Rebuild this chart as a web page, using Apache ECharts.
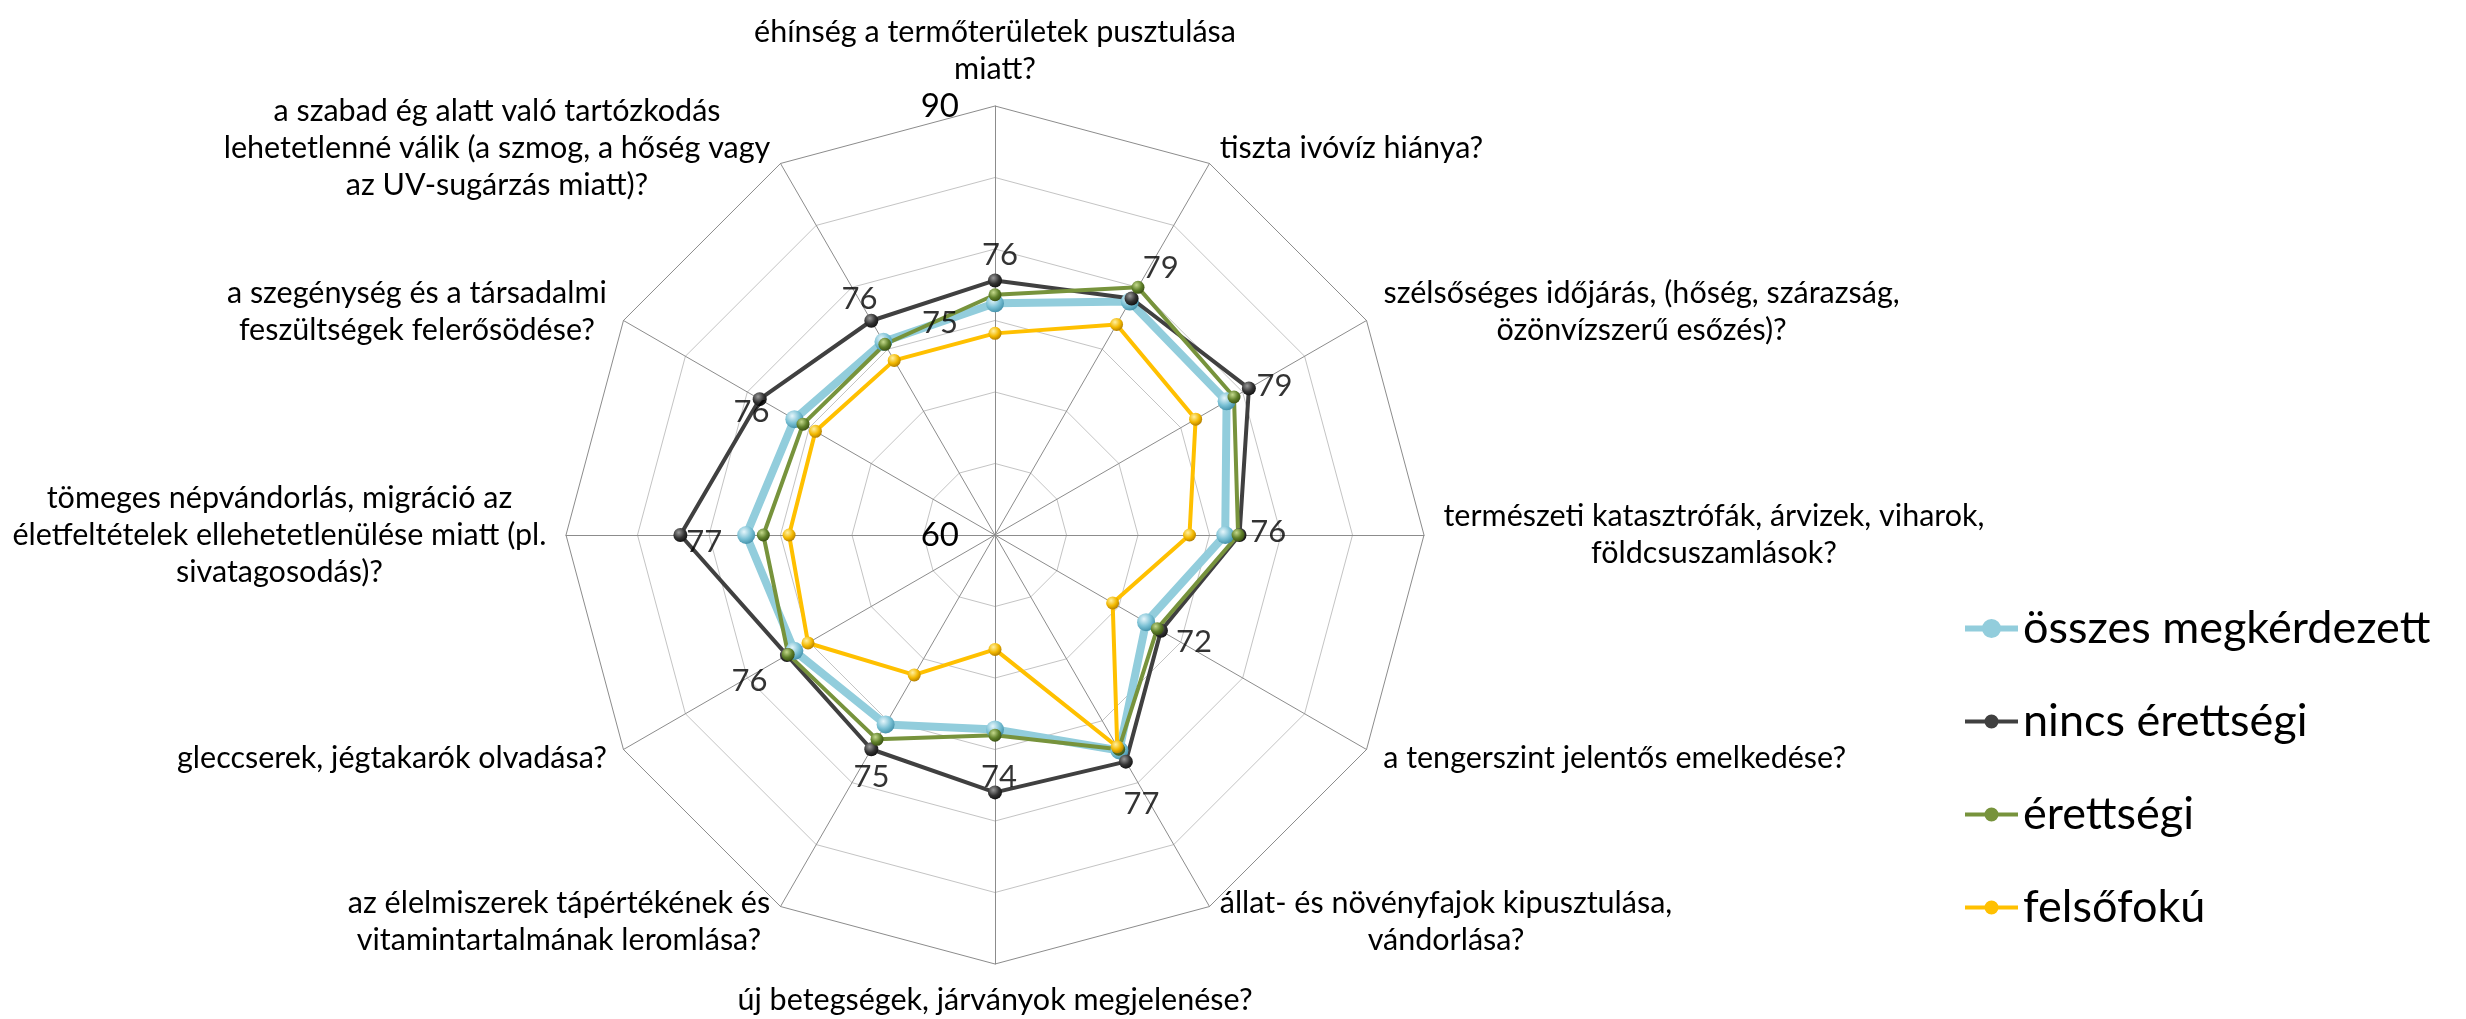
<!DOCTYPE html>
<html><head><meta charset="utf-8">
<script src="https://cdn.jsdelivr.net/npm/echarts@6/dist/echarts.min.js"></script>
<style>html,body{margin:0;padding:0;background:#fff}#c{width:2466px;height:1019px}</style>
</head><body><div id="c"></div>
<script>
// ---- data (clockwise from the top axis) ----
const categories = [
  'éhínség a termőterületek pusztulása\nmiatt?',
  'tiszta ivóvíz hiánya?',
  'szélsőséges időjárás, (hőség, szárazság,\nözönvízszerű esőzés)?',
  'természeti katasztrófák, árvizek, viharok,\nföldcsuszamlások?',
  'a tengerszint jelentős emelkedése?',
  'állat- és növényfajok kipusztulása,\nvándorlása?',
  'új betegségek, járványok megjelenése?',
  'az élelmiszerek tápértékének és\nvitamintartalmának leromlása?',
  'gleccserek, jégtakarók olvadása?',
  'tömeges népvándorlás, migráció az\néletfeltételek ellehetetlenülése miatt (pl.\nsivatagosodás)?',
  'a szegénység és a társadalmi\nfeszültségek felerősödése?',
  'a szabad ég alatt való tartózkodás\nlehetetlenné válik (a szmog, a hőség vagy\naz UV-sugárzás miatt)?'
];
const seriesNames = ['összes megkérdezett', 'nincs érettségi', 'érettségi', 'felsőfokú'];
const osszes    = [76.2, 78.85, 78.7, 76.1, 72.2, 77.4, 73.6, 75.3, 76.2, 77.4, 76.2, 75.6];
const nincs     = [77.8, 79.1, 80.5, 77.1, 73.4, 78.3, 78.0, 77.3, 76.8, 82.0, 79.0, 77.3];
const erettsegi = [76.8, 80.0, 79.3, 77.0, 73.1, 77.3, 74.0, 76.5, 76.7, 76.2, 75.5, 75.4];
const felsofoku = [74.1, 77.0, 76.2, 73.6, 69.5, 77.1, 68.0, 71.3, 75.1, 74.4, 74.5, 74.1];
const valueLabels = ['76', '79', '79', '76', '72', '77', '74', '75', '76', '77', '76', '76'];
const extraLabelIndex = 11;      // extra label on 'érettségi'
const extraLabelText = '75';
const axisMin = 60, axisMax = 90, axisSplits = 6;
const axisTickLabels = ['60', '90'];

// ---- styles / layout ----
const CX = 995, CY = 535, R = 429;
const labelOffsets = [[5,-48],[31,-34],[48,-15],[43,-3],[48,20],[22,54],[4,48],[-14,53],[-45,30],[-42,7],[-43,-7],[-24,-43]];
const extraOffset = [55,-21];
const FONT = 'Lato';
const NAME_SIZE = 30.5;
const lineColors = ['#92CDDC', '#404040', '#77933C', '#FFC000'];
const lineWidths = [8, 4, 4, 4];
const symbolSizes = [18, 14, 13, 13];
const sphere = [
  ['#e6f6fb', '#79c0d4', '#3b8aa4'],
  ['#9a9a9a', '#333333', '#0d0d0d'],
  ['#c4d98c', '#5f802a', '#34490f'],
  ['#fff0a0', '#f2b800', '#a87400']
];
function grad(c) {
  return {type: 'radial', x: 0.38, y: 0.32, r: 0.75,
    colorStops: [{offset: 0, color: c[0]}, {offset: 0.55, color: c[1]}, {offset: 1, color: c[2]}]};
}
const legendIcons = [
  'path://M0,7H53V13H0Z M17,10A9.5,9.5 0 1,1 36,10A9.5,9.5 0 1,1 17,10Z',
  'path://M0,8H53V12H0Z M19.5,10A7,7 0 1,1 33.5,10A7,7 0 1,1 19.5,10Z',
  'path://M0,8H53V12H0Z M19.5,10A7,7 0 1,1 33.5,10A7,7 0 1,1 19.5,10Z',
  'path://M0,8H53V12H0Z M19.5,10A7,7 0 1,1 33.5,10A7,7 0 1,1 19.5,10Z'
];

// radar indicators run counter-clockwise in ECharts
const radarOrder = [0, 11, 10, 9, 8, 7, 6, 5, 4, 3, 2, 1];
const toRadar = arr => radarOrder.map(i => arr[i]);

// rich styles so multi-line names are centred within their block
const ctx = document.createElement('canvas').getContext('2d');
ctx.font = NAME_SIZE + 'px ' + FONT;
const rich = {};
categories.forEach((c, i) => {
  const w = Math.max.apply(null, c.split('\n').map(s => ctx.measureText(s).width));
  rich['n' + i] = {width: Math.ceil(w) + 2, align: 'center', fontSize: NAME_SIZE, fontFamily: FONT, color: '#000', lineHeight: 37};
});

const allSeries = [osszes, nincs, erettsegi, felsofoku];

const chart = echarts.init(document.getElementById('c'), null, {renderer: 'canvas'});
chart.setOption({
  backgroundColor: '#fff',
  animation: false,
  legend: {
    orient: 'vertical', left: 1960, top: 601, itemWidth: 53, itemHeight: 20, itemGap: 48,
    selectedMode: false,
    textStyle: {fontSize: 45, fontFamily: FONT, color: '#000'},
    data: seriesNames.map((n, k) => ({name: n, icon: legendIcons[k], itemStyle: {color: lineColors[k]}}))
  },
  radar: {
    center: [CX, CY], radius: R, startAngle: 90, shape: 'polygon', splitNumber: axisSplits,
    nameGap: 18,
    indicator: radarOrder.map((i, k) => {
      const o = {name: categories[i], min: axisMin, max: axisMax};
      if (k === 0) o.axisLabel = {show: true};
      return o;
    }),
    axisName: {
      color: '#000', fontSize: NAME_SIZE, fontFamily: FONT,
      formatter: function (name) {
        const i = categories.indexOf(name);
        return name.split('\n').map(s => '{n' + i + '|' + s + '}').join('\n');
      },
      rich: rich
    },
    axisLine: {lineStyle: {color: '#8c8c8c', width: 1}},
    splitLine: {lineStyle: {color: ['#c4c4c4', '#c4c4c4', '#c4c4c4', '#c4c4c4', '#c4c4c4', '#c4c4c4', '#8c8c8c'], width: 1}},
    splitArea: {show: false},
    axisTick: {show: false},
    axisLabel: {
      show: false, margin: 36, fontSize: 33, fontFamily: FONT, color: '#000',
      formatter: v => axisTickLabels.indexOf(String(v)) >= 0 ? String(v) : ''
    }
  },
  polar: {center: [CX, CY], radius: R},
  angleAxis: {type: 'value', min: 0, max: 12, startAngle: 90, clockwise: true, show: false},
  radiusAxis: {type: 'value', min: axisMin, max: axisMax, show: false},
  series: [
    {
      type: 'radar',
      symbol: 'circle',
      data: allSeries.map((arr, k) => ({
        name: seriesNames[k],
        value: toRadar(arr),
        symbolSize: symbolSizes[k],
        lineStyle: {color: lineColors[k], width: lineWidths[k]},
        itemStyle: {color: grad(sphere[k]), borderWidth: 0}
      }))
    },
    {
      type: 'scatter', coordinateSystem: 'polar', z: 10, silent: true,
      symbol: 'circle', symbolSize: 1, itemStyle: {color: 'rgba(0,0,0,0)'},
      label: {show: true, position: 'inside', fontSize: 31, fontFamily: FONT, color: '#000'},
      data: osszes.map((v, i) => ({
        value: [v, i],
        label: {formatter: valueLabels[i], offset: labelOffsets[i]}
      })).concat([{
        value: [erettsegi[extraLabelIndex], extraLabelIndex],
        label: {formatter: extraLabelText, offset: extraOffset}
      }])
    }
  ]
});
</script></body></html>
